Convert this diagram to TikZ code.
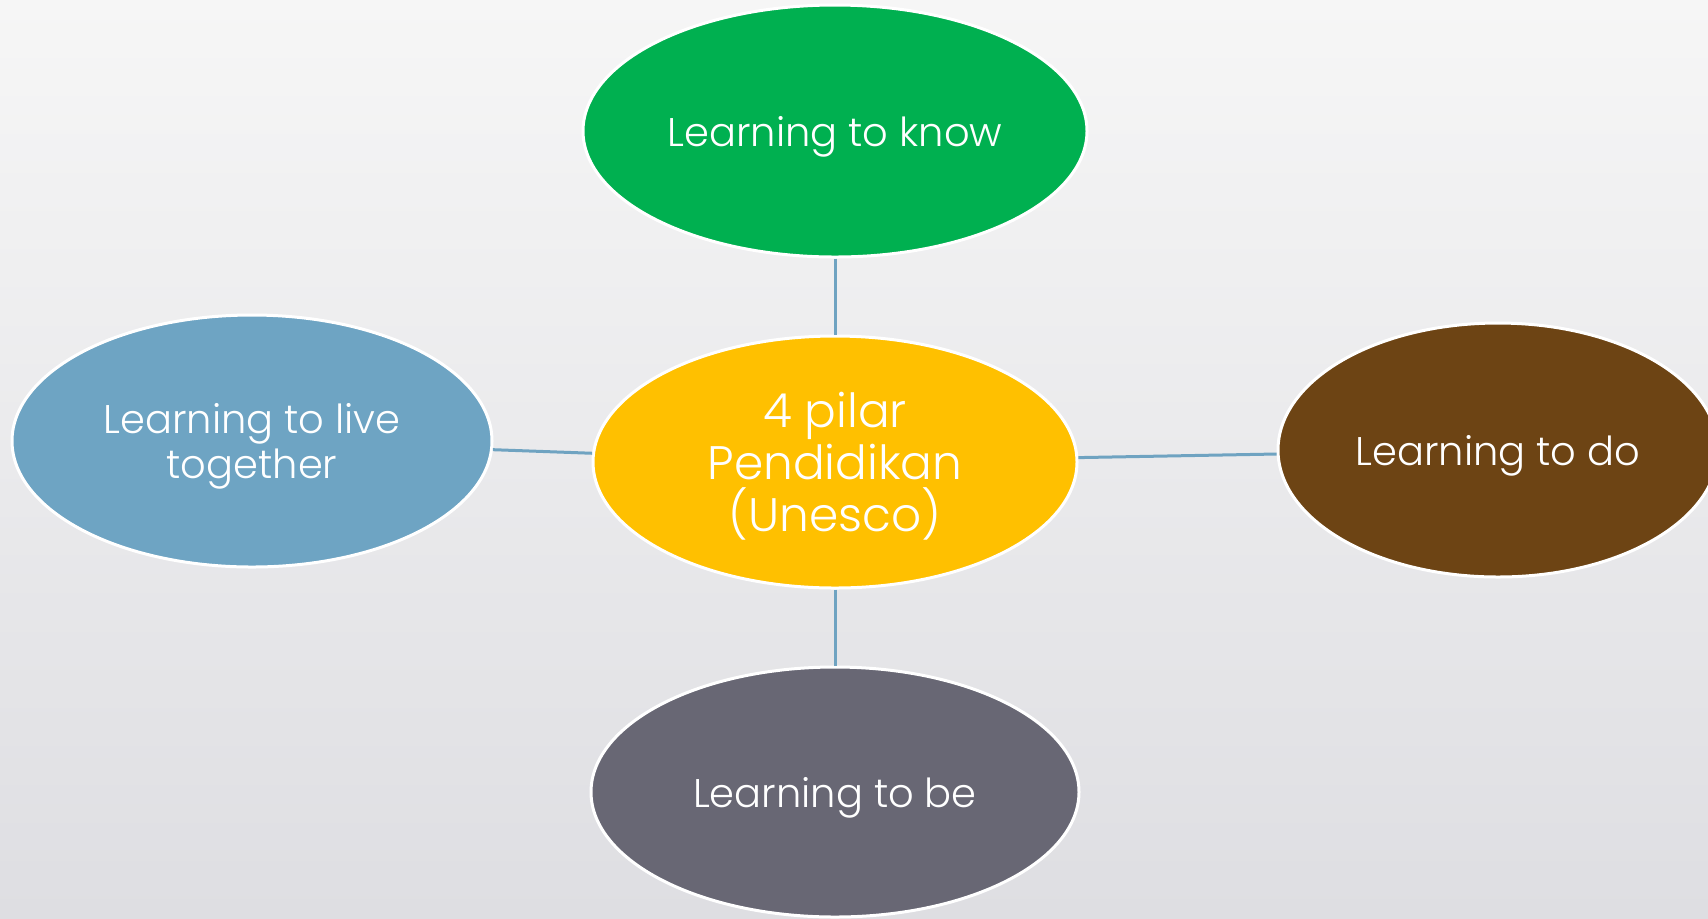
\documentclass[tikz,border=0pt]{standalone}
\usepackage{fontspec}
\setmainfont{Poppins Light}
\usetikzlibrary{shapes.geometric}
\definecolor{bgtop}{HTML}{F6F6F6}
\definecolor{bgbottom}{HTML}{DEDEE2}
\definecolor{knowgreen}{HTML}{00B050}
\definecolor{pilaryellow}{HTML}{FFC000}
\definecolor{dobrown}{HTML}{6D4414}
\definecolor{livblue}{HTML}{6EA4C3}
\definecolor{begray}{HTML}{686774}
\definecolor{linkblue}{HTML}{6FA3C1}
\tikzset{
  pillar/.style={ellipse, draw=white, line width=1.5pt, inner sep=0pt,
    text=white, align=center, text depth=0pt, font=\fontsize{20}{22.5}\selectfont},
}
\begin{document}
\begin{tikzpicture}[x=0.5pt, y=-0.5pt]
   \useasboundingbox (0,0) rectangle (1708,918);
   \shade[top color=bgtop, bottom color=bgbottom] (0,0) rectangle (1708,918);
   \clip (0,0) rectangle (1708,918);
   \begin{scope}[every node/.style={pillar}]
    \node[fill=pilaryellow, minimum width=242pt, minimum height=126pt,
      font=\fontsize{23.5}{26}\selectfont] (pilar) at (835,462) {4 pilar\\Pendidikan\\(Unesco)};
    \node[fill=knowgreen, minimum width=252pt, minimum height=126pt] (know) at (835,131) {Learning to know};
    \node[fill=livblue, minimum width=240pt, minimum height=126pt] (live) at (252,441) {Learning to live\\together};
    \node[fill=dobrown, minimum width=220pt, minimum height=127pt] (do) at (1498,450) {Learning to do};
    \node[fill=begray, minimum width=244pt, minimum height=125pt] (be) at (835,792) {Learning to be};
   \end{scope}
   \begin{scope}[every edge/.style={draw=linkblue, line width=1.5pt}]
    \draw (know) edge (pilar);
    \draw (pilar) edge (do);
    \draw (live) edge (pilar);
    \draw (pilar) edge (be);
   \end{scope}
\end{tikzpicture}
\end{document}
